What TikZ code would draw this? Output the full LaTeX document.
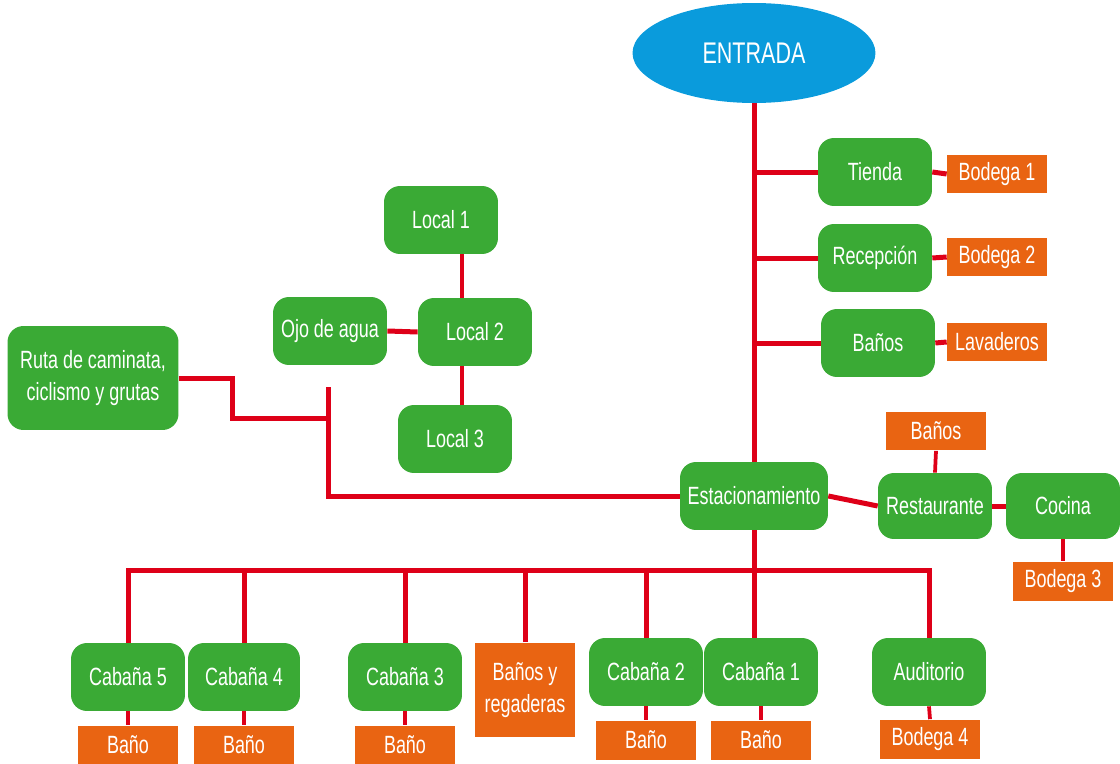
\documentclass[tikz,border=0pt]{standalone}
\usepackage{fontspec}
\setmainfont{Liberation Sans}[FakeStretch=0.72]
\usepackage{tikz}
\usetikzlibrary{shapes, positioning, calc}
\definecolor{verde}{RGB}{58,170,53}
\definecolor{naranja}{RGB}{233,100,18}
\definecolor{rojo}{RGB}{222,0,24}
\definecolor{azul}{RGB}{10,155,220}
\newcommand{\letra}{\fontsize{14.2}{18}\selectfont}

\begin{document}
\begin{tikzpicture}[x=0.02cm, y=-0.02cm,
	zona/.style={fill=verde, rounded corners=0.32cm, text=white, minimum width=2.28cm, minimum height=1.36cm, inner sep=1pt, align=center, font=\letra},
	anexo/.style={fill=naranja, text=white, minimum width=2cm, minimum height=0.78cm, inner sep=1pt, align=center, font=\letra},
	via/.style={draw=rojo, line width=0.1cm},
	ramal/.style={draw=rojo, line width=0.075cm}]
	\useasboundingbox (0,0) rectangle (1120,764);
	
	\node[ellipse, fill=azul, text=white, minimum width=4.86cm, minimum height=2cm, font=\fontsize{17}{20}\selectfont] (entrada) at (754,53) {ENTRADA};
	
	% lado derecho de la entrada
	\node[zona] (tienda) at (875,172) {Tienda};
	\node[anexo] (bodega1) at (997,174) {Bodega 1};
	\node[zona] (recepcion) at (875,258) {Recepción};
	\node[anexo] (bodega2) at (997,257) {Bodega 2};
	\node[zona] (banos) at (878,343) {Baños};
	\node[anexo] (lavaderos) at (997,342) {Lavaderos};
	
	\node[zona, minimum width=2.96cm] (estacionamiento) at (754,496) {Estacionamiento};
	\node[zona, minimum height=1.32cm] (restaurante) at (935,506) {Restaurante};
	\node[zona, minimum height=1.32cm] (cocina) at (1063,506) {Cocina};
	\node[anexo] (banosrest) at (936,431) {Baños};
	\node[anexo] (bodega3) at (1063,581) {Bodega 3};
	
	% locales
	\node[zona] (local1) at (441,220) {Local 1};
	\node[zona] (local2) at (475,332) {Local 2};
	\node[zona] (ojo) at (330,331) {Ojo de agua};
	\node[zona] (local3) at (455,439) {Local 3};
	\node[zona, minimum width=3.42cm, minimum height=2.08cm] (ruta) at (93,378) {Ruta de caminata,\\ciclismo y grutas};
	
	% cabañas
	\node[zona] (cabana5) at (128,677) {Cabaña 5};
	\node[zona, minimum width=2.24cm] (cabana4) at (244,677) {Cabaña 4};
	\node[zona] (cabana3) at (405,677) {Cabaña 3};
	\node[anexo, minimum height=1.9cm] (regaderas) at (525,690) {Baños y\\regaderas};
	\node[zona] (cabana2) at (646,672) {Cabaña 2};
	\node[zona] (cabana1) at (761,672) {Cabaña 1};
	\node[zona] (auditorio) at (929,672) {Auditorio};
	\node[anexo] (bano5) at (128,745) {Baño};
	\node[anexo] (bano4) at (244,745) {Baño};
	\node[anexo] (bano3) at (405,745) {Baño};
	\node[anexo] (bano2) at (646,740) {Baño};
	\node[anexo] (bano1) at (761,740) {Baño};
	\node[anexo] (bodega4) at (930,739) {Bodega 4};
	
	\coordinate (eje) at (462,300);
	\coordinate (remate) at (328,387);
	\coordinate (codo) at (232,418);
	\coordinate (bus) at (754,570);
	
	\draw[via] (entrada.south) -- (estacionamiento.north);
	\foreach \n in {tienda, recepcion, banos}
		\draw[via] (\n.west) -- (\n.west -| entrada.south);
	\draw[via] (tienda.east) -- (bodega1.west);
	\draw[via] (recepcion.east) -- (bodega2.west);
	\draw[via] (banos.east) -- (lavaderos.west);
	
	\draw[via] (estacionamiento.east) -- (restaurante.west);
	\draw[via] (restaurante.east) -- (cocina.west);
	\draw[ramal] (banosrest.south) -- (restaurante.north);
	\draw[ramal] (cocina.south) -- (bodega3.north);
	
	\draw[ramal] (local1.south -| eje) -- (local2.north -| eje);
	\draw[ramal] (local2.south -| eje) -- (local3.north -| eje);
	\draw[via] (ojo.east) -- (local2.west);
	\draw[via] (remate) |- (estacionamiento.west);
	\draw[via] (ruta.east) -| (codo) -- (codo -| remate);
	
	\draw[via] (estacionamiento.south) -- (estacionamiento.south |- cabana1.north);
	\draw[via] (cabana5.north) |- (auditorio.north |- bus) -- (auditorio.north);
	\foreach \n in {cabana4, cabana3, regaderas, cabana2}
		\draw[via] (\n.north) -- (\n.north |- bus);
	\foreach \a/\b in {cabana5/bano5, cabana4/bano4, cabana3/bano3, cabana2/bano2, cabana1/bano1, auditorio/bodega4}
		\draw[ramal] (\a.south) -- (\b.north);
\end{tikzpicture}
\end{document}
